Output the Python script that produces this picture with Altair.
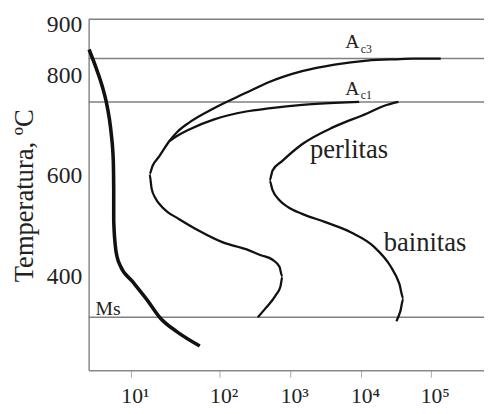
import altair as alt
import pandas as pd

# ---- data (time in s, temperature in ºC) ----
mart_t = [3.38, 4.10, 4.77, 5.28, 5.71, 6.01, 6.33, 6.40, 6.40, 6.65, 7.00, 7.55, 10.5, 15.4, 21.5, 33.1, 59.6]
mart_T = [851, 812, 777, 747, 714, 683, 630, 572, 513, 464, 439, 423, 390, 353, 318, 291, 263]

ac3_t = [138400, 55700, 36600, 12150, 4220, 1470, 493, 236, 85, 46, 33, 27, 21, 17.5, 16.2, 17.1, 18.9, 21.5,
         25.7, 33.1, 55, 113, 236, 382, 561, 703, 773, 726, 618, 448, 347]
ac3_T = [833, 833, 832, 829, 821, 808, 786, 765, 734, 707, 687, 669, 640, 620, 604, 575, 556, 542,
         529, 517, 494, 468, 455, 443, 434, 420, 400, 381, 363, 338, 320]

ac1_t = [9380, 4217, 1468, 493, 236, 85, 46, 30.7, 27]
ac1_T = [747, 745, 741, 734, 728, 712, 693, 676, 669]

fin_t = [34270, 21090, 12150, 4217, 1468, 773, 561, 509, 561, 703, 938, 1468, 3063, 7263, 15240, 26450,
         35400, 40360, 36560, 32130]
fin_T = [747, 739, 724, 698, 663, 630, 611, 591, 572, 552, 538, 525, 509, 488, 460, 421, 386, 357, 332, 312]

hline_T = [911, 833, 747, 320]

label_text = ["perlitas", "bainitas", "Ms", "A", "c3", "A", "c1"]
label_t = [1897, 21090, 3.99, 6000, 9900, 6000, 9900]
label_T = [636, 451, 324, 854.5, 845, 761, 753]
label_size = [27, 27, 20, 20, 12, 20, 12]

x_ticks = [1, 2, 3, 4, 5]
y_ticks = [400, 600, 800, 900]

# ---- tables ----
def curve(name, ts, Ts):
    return pd.DataFrame({"curve": name, "order": range(len(ts)), "t": ts, "T": Ts})

thin = pd.concat([curve("ac3", ac3_t, ac3_T), curve("ac1", ac1_t, ac1_T), curve("fin", fin_t, fin_T)])
thick = curve("mart", mart_t, mart_T)
hl = pd.DataFrame({"T": hline_T})
labels = pd.DataFrame({"text": label_text, "t": label_t, "T": label_T, "size": label_size})

FONT = "Liberation Serif, Times New Roman, serif"

xscale = alt.Scale(domain=[0.524, 1, 2, 3, 4, 5, 5.76], range=[0, 43, 133.3, 205, 277, 348, 402], nice=False)
yscale = alt.Scale(domain=[214.7, 911], nice=False, zero=False)

xaxis = alt.Axis(values=x_ticks, title=None, grid=False,
                 labelExpr="'10' + ['⁰','¹','²','³','⁴','⁵'][datum.value]",
                 labelFont=FONT, labelFontSize=22, labelColor="#222", labelPadding=9, labelOffset=4,
                 tickColor="#aaa", tickSize=7, domainColor="#888", domainWidth=1.5, labelFlush=False)
yaxis = alt.Axis(values=y_ticks, title="Temperatura, ºC", grid=False, ticks=False, tickSize=0,
                 labelFont=FONT, labelFontSize=24, labelColor="#222", labelPadding=7,
                 titleFont=FONT, titleFontSize=27, titleFontWeight="normal", titleColor="#222",
                 titleX=-51, titleY=179, domainColor="#888", domainWidth=1.5)

X = alt.X("lt:Q", scale=xscale, axis=xaxis)
Y = alt.Y("T:Q", scale=yscale, axis=yaxis)

rules = alt.Chart(hl).mark_rule(color="#808080", strokeWidth=1.5).encode(
    y=alt.Y("T:Q", scale=yscale, axis=yaxis))

thin_lines = alt.Chart(thin).transform_calculate(lt="log(datum.t)/LN10").mark_line(
    color="#111", strokeWidth=2.3, interpolate="monotone").encode(
    x=X, y=Y, detail="curve:N", order="order:Q")

thick_lines = alt.Chart(thick).transform_calculate(lt="log(datum.t)/LN10").mark_line(
    color="#111", strokeWidth=3.6, interpolate="monotone").encode(
    x=X, y=Y, order="order:Q")

texts = alt.Chart(labels).transform_calculate(lt="log(datum.t)/LN10").mark_text(
    align="left", baseline="alphabetic", font=FONT, color="#222").encode(
    x=X, y=Y, text="text:N", size=alt.Size("size:Q", scale=None))

chart = alt.layer(rules, thin_lines, thick_lines, texts).properties(
    width=402, height=357,
    autosize=alt.AutoSizeParams(type="none"),
    padding={"left": 82, "top": 8, "right": 0, "bottom": 41},
).configure_view(stroke=None).configure_axis(labelFont=FONT, titleFont=FONT)

chart.save("out.html", embed_options={"renderer": "svg", "actions": False})
